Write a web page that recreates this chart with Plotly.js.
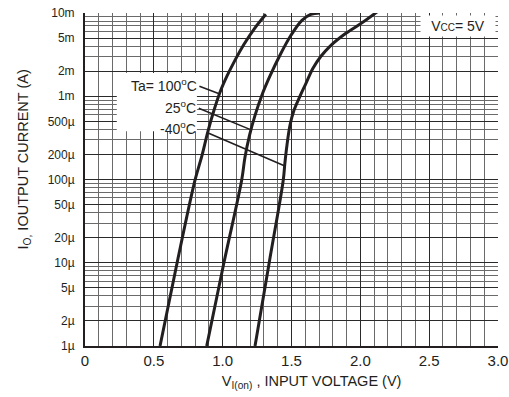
<!DOCTYPE html>
<html>
<head>
<meta charset="utf-8">
<script src="https://cdn.plot.ly/plotly-3.0.1.min.js"></script>
<style>html,body{margin:0;padding:0;background:#fff;}#chart{width:509px;height:397px;}</style>
</head>
<body>
<div id="chart"></div>
<script>
// Input voltage (V) and output current (A) for each ambient temperature
const v100 = [0.545, 0.668, 0.799, 0.850, 0.893, 0.937, 0.980, 1.031, 1.089, 1.155, 1.227, 1.314];
const i100 = [1e-6, 9.8e-6, 9.8e-5, 1.95e-4, 3.79e-4, 6.78e-4, 1.11e-3, 1.74e-3, 2.70e-3, 4.21e-3, 6.37e-3, 9.64e-3];
const v25 = [0.884, 1.009, 1.138, 1.162, 1.195, 1.235, 1.285, 1.343, 1.416, 1.496, 1.576, 1.641, 1.707];
const i25 = [1e-6, 1e-5, 9.8e-5, 1.85e-4, 3.39e-4, 5.90e-4, 1.03e-3, 1.74e-3, 3.11e-3, 5.40e-3, 8.17e-3, 9.65e-3, 1e-2];
const vm40 = [1.235, 1.338, 1.440, 1.452, 1.467, 1.489, 1.518, 1.561, 1.605, 1.656, 1.714, 1.779, 1.895, 2.012, 2.128];
const im40 = [1e-6, 1e-5, 9.8e-5, 1.57e-4, 2.58e-4, 4.48e-4, 6.78e-4, 9.98e-4, 1.43e-3, 2.17e-3, 3.02e-3, 3.98e-3, 5.70e-3, 7.62e-3, 1.05e-2];

const tempLabels = ["Ta= 100<sup>o</sup>C", "25<sup>o</sup>C", "-40<sup>o</sup>C"];
const leaderTipV = [0.97, 1.198, 1.452];
const leaderTipI = [1.08e-3, 4.0e-4, 1.45e-4];

const xTickVals = [0, 0.5, 1.0, 1.5, 2.0, 2.5, 3.0];
const xTickText = ["0", "0.5", "1.0", "1.5", "2.0", "2.5", "3.0"];
const yTickVals = [1e-2, 5e-3, 2e-3, 1e-3, 5e-4, 2e-4, 1e-4, 5e-5, 2e-5, 1e-5, 5e-6, 2e-6, 1e-6];
const yTickText = ["10m", "5m", "2m", "1m", "500µ", "200µ", "100µ", "50µ", "20µ", "10µ", "5µ", "2µ", "1µ"];
const yMinorVals = [];
[1e-6, 1e-5, 1e-4, 1e-3].forEach(d => { for (let k = 1; k <= 9; k++) yMinorVals.push(d * k); });

const FONT = "'Liberation Sans', Arial, sans-serif";
const INK = '#231f20';
const curveLine = {color: INK, width: 3, shape: 'spline', smoothing: 1.0};

const traces = [
  {x: v100, y: i100, mode: 'lines', line: curveLine, hoverinfo: 'skip', showlegend: false},
  {x: v25, y: i25, mode: 'lines', line: curveLine, hoverinfo: 'skip', showlegend: false},
  {x: vm40, y: im40, mode: 'lines', line: curveLine, hoverinfo: 'skip', showlegend: false}
];

// pixel offsets from each leader tip to the right end of its label
const labelOffsets = [[-21, -8], [-53, -22], [-88, -38]];
const leaderGap = [2, 2, 11];
const annotations = [];
tempLabels.forEach((t, i) => {
  annotations.push({x: leaderTipV[i], y: Math.log10(leaderTipI[i]), text: t,
    showarrow: true, arrowhead: 0, arrowwidth: 1.6, arrowcolor: INK,
    ax: labelOffsets[i][0], ay: labelOffsets[i][1], xanchor: 'right', yanchor: 'middle',
    standoff: 0, startstandoff: leaderGap[i], borderpad: 0,
    font: {family: FONT, size: 14, color: INK}});
});
annotations.push({xref: 'paper', yref: 'paper', x: 0.996, y: 0.995, xanchor: 'right', yanchor: 'top',
  text: "V<span style='font-size:10px'>CC</span>= 5V", showarrow: false, bgcolor: '#ffffff',
  width: 72, height: 18, borderpad: 1, font: {family: FONT, size: 14, color: INK}});

const layout = {
  width: 509, height: 397,
  margin: {l: 85, r: 11, t: 13, b: 51},
  paper_bgcolor: '#ffffff', plot_bgcolor: '#ffffff',
  showlegend: false,
  xaxis: {
    range: [0, 3.0], tickvals: xTickVals, ticktext: xTickText,
    showgrid: true, gridcolor: '#2a2a2a', gridwidth: 1,
    minor: {dtick: 0.1, showgrid: true, gridcolor: '#6a6a6a', gridwidth: 1},
    showline: true, linecolor: INK, linewidth: 2, zeroline: false,
    ticks: '', ticklabeloverflow: 'allow', tickfont: {family: FONT, size: 15, color: INK},
    title: {text: "&nbsp;&nbsp;&nbsp;&nbsp;&nbsp;&nbsp;&nbsp;&nbsp;&nbsp;&nbsp;V<sub>I(on)</sub> , INPUT VOLTAGE (V)",
            font: {family: FONT, size: 14.5, color: INK}, standoff: 8}
  },
  yaxis: {
    type: 'log', range: [-6, -2], tickvals: yTickVals, ticktext: yTickText,
    showgrid: true, gridcolor: '#2a2a2a', gridwidth: 1,
    minor: {tickvals: yMinorVals, showgrid: true, gridcolor: '#6a6a6a', gridwidth: 1},
    showline: true, linecolor: INK, linewidth: 2, zeroline: false,
    ticks: '', ticklabelstandoff: 6, tickfont: {family: FONT, size: 12, color: INK},
    title: {text: "&nbsp;&nbsp;&nbsp;&nbsp;&nbsp;&nbsp;&nbsp;&nbsp;&nbsp;&nbsp;I<sub>O,</sub> IOUTPUT CURRENT (A)",
            font: {family: FONT, size: 14.5, color: INK}, standoff: 16}
  },
  shapes: [
    {type: 'rect', xref: 'paper', yref: 'paper', x0: 0.077, x1: 0.271, y0: 0.645, y1: 0.82,
     fillcolor: '#ffffff', line: {width: 0}, layer: 'above'}
  ],
  annotations: annotations
};

Plotly.newPlot('chart', traces, layout, {staticPlot: true, displayModeBar: false});
</script>
</body>
</html>
